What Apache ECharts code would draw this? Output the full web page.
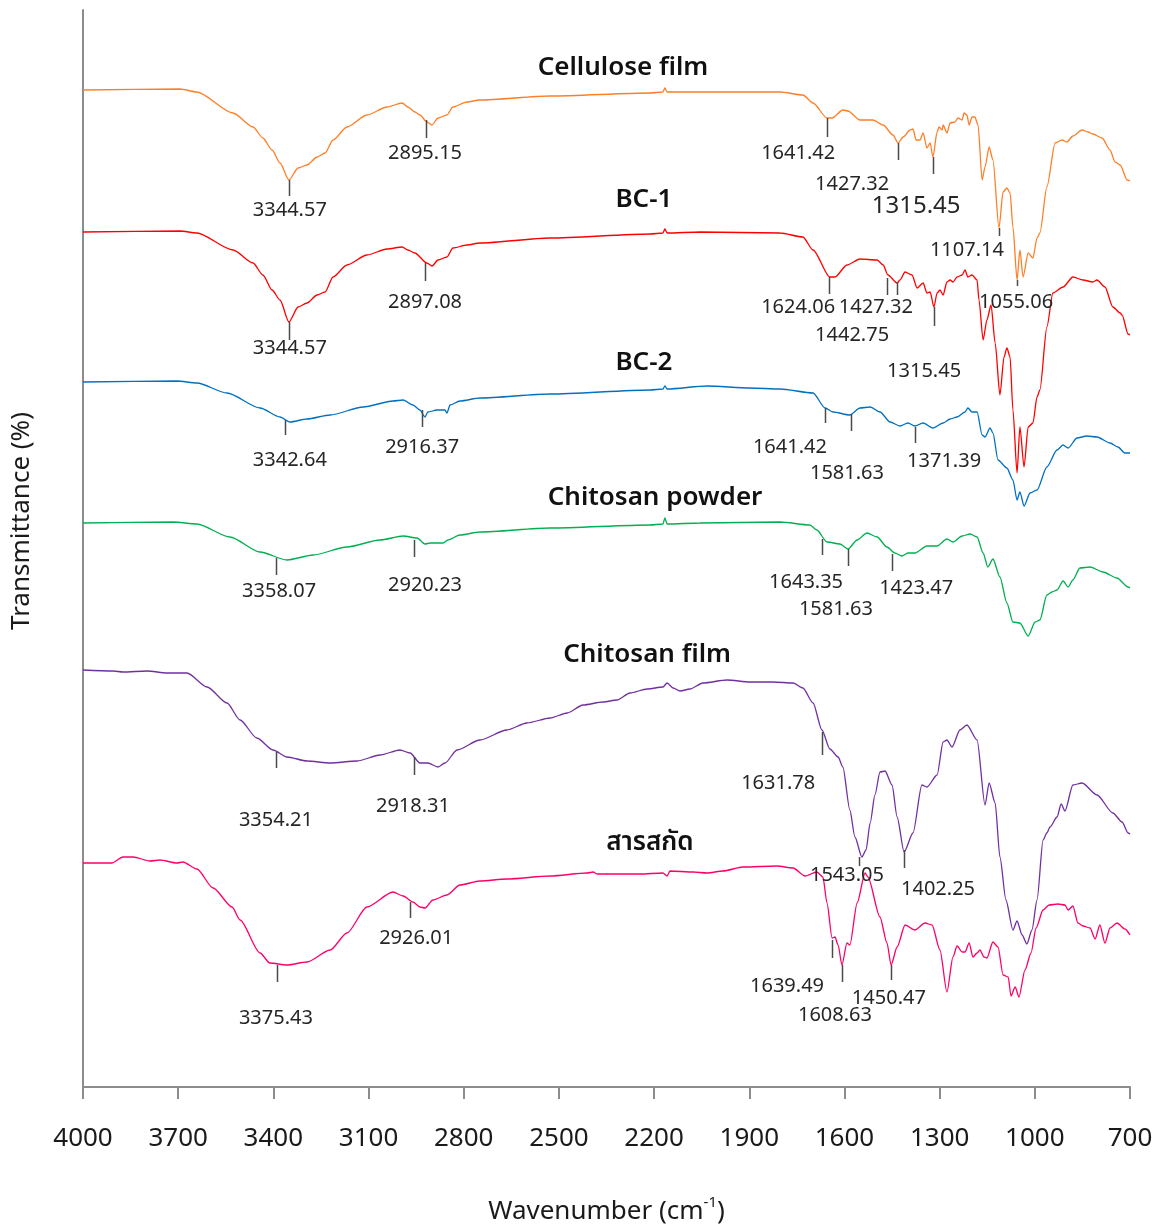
<!DOCTYPE html>
<html>
<head>
<meta charset="utf-8">
<script src="https://cdn.jsdelivr.net/npm/echarts@6/dist/echarts.min.js"></script>
<style>html,body{margin:0;padding:0;background:#fff}#c{width:1165px;height:1225px}</style>
</head>
<body>
<div id="c"></div>
<script>
// ---- x axis tick labels (wavenumber, cm-1) ----
const xTicks = [4000, 3700, 3400, 3100, 2800, 2500, 2200, 1900, 1600, 1300, 1000, 700];

// ---- series names ----
const seriesNames = ['Cellulose film', 'BC-1', 'BC-2', 'Chitosan powder', 'Chitosan film', 'สารสกัด'];

// ---- spectra: [wavenumber, transmittance (offset, a.u. %)] ----
const celluloseFilm = [
[4000,99.7],[3694,99.8],[3641,99.5],[3527,97.4],[3464,96.0],[3433,94.9],[3404,93.7],[3379,92.4],[3351,90.7],
[3322,91.9],[3294,92.2],[3262,93.0],[3237,93.4],[3212,94.7],[3168,96.0],[3105,97.2],[3042,98.0],[2994,98.4],
[2976,98.0],[2954,97.5],[2938,97.2],[2916,96.5],[2900,96.2],[2881,96.9],[2853,97.2],[2834,98.0],[2790,98.5],
[2749,98.7],[2528,99.1],[2213,99.4],[2172,99.5],[2166,99.9],[2159,99.5],[2055,99.5],[1803,99.5],[1731,99.2],
[1699,98.4],[1655,96.9],[1639,96.9],[1605,97.7],[1589,97.6],[1551,96.7],[1510,96.7],[1478,96.2],[1447,95.2],
[1431,94.4],[1415,95.0],[1393,95.7],[1384,95.8],[1374,94.7],[1362,94.7],[1352,95.4],[1340,93.9],[1330,94.4],
[1321,93.0],[1308,95.5],[1302,96.0],[1292,95.7],[1289,96.2],[1277,95.4],[1267,96.4],[1252,96.5],[1242,96.9],
[1229,96.7],[1223,97.4],[1214,97.2],[1207,96.2],[1198,97.0],[1189,97.0],[1179,96.2],[1166,90.7],[1157,92.0],
[1144,94.0],[1132,92.7],[1113,85.9],[1100,89.5],[1088,89.9],[1078,89.4],[1069,86.0],[1056,80.7],[1047,83.7],
[1037,81.0],[1021,83.4],[1006,82.9],[993,84.9],[984,85.4],[962,90.0],[936,94.4],[914,94.7],[899,94.5],
[880,95.1],[851,95.7],[832,95.5],[817,95.3],[788,94.9],[763,93.7],[747,92.5],[731,92.2],[709,90.7],[700,90.6]
];
const bc1 = [
[4000,85.5],[3694,85.6],[3641,85.4],[3527,83.7],[3464,82.4],[3433,81.2],[3404,79.7],[3379,78.7],[3351,76.5],
[3322,78.0],[3294,78.4],[3262,79.2],[3237,79.5],[3212,81.0],[3168,82.2],[3105,83.2],[3042,83.8],[2994,84.0],
[2976,83.7],[2954,83.4],[2916,82.4],[2900,82.1],[2881,82.7],[2853,83.0],[2834,83.9],[2790,84.2],[2749,84.4],
[2528,84.9],[2213,85.3],[2172,85.4],[2166,85.8],[2159,85.4],[2055,85.5],[1803,85.4],[1731,85.0],[1699,83.7],
[1646,81.0],[1630,81.0],[1592,82.2],[1551,82.8],[1497,82.7],[1478,82.2],[1463,81.2],[1434,80.4],[1425,80.7],
[1409,81.5],[1387,81.2],[1371,79.9],[1352,80.4],[1340,79.4],[1330,79.5],[1318,78.0],[1308,79.4],[1299,79.7],
[1289,79.2],[1277,80.5],[1267,80.7],[1258,80.5],[1245,81.0],[1229,81.2],[1220,81.7],[1211,81.0],[1198,81.2],
[1182,80.7],[1176,78.7],[1163,74.7],[1151,76.7],[1138,78.2],[1125,74.4],[1110,69.2],[1097,73.0],[1088,73.9],
[1078,73.0],[1069,67.7],[1056,61.4],[1047,66.0],[1034,62.0],[1021,66.0],[1006,66.4],[993,69.0],[984,69.7],
[962,76.0],[943,79.4],[911,80.0],[880,81.0],[848,80.7],[817,80.5],[804,80.7],[779,80.0],[754,78.0],[731,77.4],
[725,77.2],[706,75.3],[700,75.2]
];
const bc2 = [
[4000,70.5],[3704,70.6],[3641,70.4],[3546,69.4],[3442,67.9],[3379,67.0],[3348,66.5],[3294,66.8],[3221,67.2],
[3117,68.0],[3023,68.6],[2991,68.7],[2960,68.2],[2938,67.7],[2922,67.0],[2913,67.5],[2884,67.7],[2859,67.7],
[2853,67.4],[2843,68.2],[2812,68.6],[2749,68.9],[2528,69.3],[2213,69.7],[2172,69.8],[2166,70.1],[2159,69.8],
[2033,70.1],[1898,69.9],[1803,69.8],[1699,69.4],[1661,67.9],[1636,67.5],[1583,67.2],[1551,67.9],[1519,68.0],
[1488,67.5],[1456,66.5],[1425,66.1],[1400,66.4],[1378,66.1],[1352,66.4],[1321,65.9],[1289,66.4],[1267,66.8],
[1245,67.0],[1220,67.5],[1211,67.9],[1198,67.5],[1182,67.5],[1166,65.2],[1157,65.0],[1141,65.9],[1132,65.4],
[1116,62.7],[1088,61.9],[1069,60.7],[1056,58.7],[1047,59.5],[1034,58.1],[1015,59.4],[993,59.7],[962,62.0],
[930,63.7],[911,64.2],[895,63.9],[867,64.9],[836,65.1],[804,65.0],[763,64.4],[738,64.0],[716,63.4],[700,63.4]
];
const chitosanPowder = [
[4000,56.4],[3716,56.5],[3641,56.3],[3537,55.0],[3442,53.5],[3357,52.7],[3275,53.2],[3168,54.0],[3064,54.7],
[2991,55.1],[2947,54.9],[2922,54.3],[2906,54.4],[2865,54.4],[2850,54.7],[2812,55.2],[2749,55.5],[2528,55.9],
[2213,56.2],[2172,56.3],[2166,56.9],[2159,56.3],[2055,56.4],[1803,56.5],[1709,56.2],[1687,55.7],[1655,54.5],
[1614,54.3],[1589,53.8],[1560,54.7],[1529,55.4],[1497,55.0],[1466,54.0],[1441,53.4],[1419,53.1],[1400,53.4],
[1378,53.4],[1340,54.1],[1308,54.1],[1277,54.8],[1258,54.5],[1229,55.1],[1204,55.3],[1182,55.0],[1163,53.4],
[1148,52.0],[1132,52.8],[1110,51.0],[1088,48.4],[1069,46.5],[1047,46.4],[1021,45.1],[999,46.5],[984,46.7],
[962,49.2],[946,49.5],[930,49.7],[911,50.6],[895,50.0],[880,50.7],[858,51.9],[826,52.0],[785,51.5],[741,50.9],
[706,50.0],[700,49.9]
];
const chitosanFilm = [
[4000,41.7],[3905,41.6],[3874,41.5],[3798,41.6],[3735,41.4],[3672,41.4],[3609,40.0],[3546,38.4],[3505,36.7],
[3452,34.9],[3401,33.7],[3357,33.0],[3294,32.6],[3221,32.4],[3136,32.6],[3064,33.2],[3001,33.7],[2969,33.4],
[2938,32.4],[2913,32.4],[2881,32.0],[2859,32.4],[2821,33.7],[2749,34.7],[2664,35.7],[2601,36.4],[2528,36.9],
[2474,37.4],[2424,38.2],[2361,38.5],[2317,38.7],[2276,39.4],[2222,39.8],[2172,40.0],[2159,40.4],[2140,39.9],
[2118,39.6],[2087,39.8],[2046,40.4],[1970,40.7],[1898,40.5],[1825,40.5],[1762,40.4],[1731,39.9],[1699,38.4],
[1671,35.7],[1646,33.8],[1620,33.0],[1605,32.0],[1583,27.7],[1567,25.0],[1545,23.0],[1532,23.7],[1519,26.4],
[1504,29.2],[1488,31.5],[1472,31.6],[1450,30.2],[1434,27.0],[1412,23.5],[1384,25.4],[1356,30.2],[1340,30.0],
[1308,31.2],[1289,34.5],[1277,34.7],[1261,34.0],[1236,35.7],[1214,36.2],[1182,34.7],[1157,28.2],[1144,30.4],
[1125,28.4],[1110,23.0],[1091,18.7],[1069,15.7],[1056,16.6],[1040,15.2],[1025,14.3],[1009,15.7],[993,18.7],
[974,24.7],[962,25.4],[952,26.0],[930,27.0],[917,28.3],[905,27.6],[880,30.2],[851,30.4],[804,29.2],[754,27.4],
[725,26.5],[706,25.4],[700,25.3]
];
const extract = [
[4000,22.4],[3909,22.4],[3874,23.0],[3842,23.0],[3789,22.6],[3757,22.7],[3704,22.4],[3685,22.5],[3641,21.8],
[3590,19.9],[3530,18.0],[3505,16.7],[3442,13.4],[3411,12.4],[3357,12.2],[3294,12.5],[3221,13.7],[3168,15.4],
[3105,18.0],[3023,19.5],[2991,19.1],[2960,18.5],[2938,18.0],[2922,17.9],[2897,18.7],[2853,19.2],[2812,20.2],
[2749,20.6],[2664,20.8],[2528,21.1],[2411,21.4],[2392,21.5],[2380,21.3],[2244,21.3],[2172,21.4],[2159,21.1],
[2150,21.6],[2077,21.5],[2033,21.4],[1983,21.6],[1920,22.0],[1813,22.1],[1762,21.9],[1724,21.1],[1687,21.5],
[1668,21.0],[1655,18.4],[1639,14.9],[1630,15.0],[1620,14.2],[1608,12.2],[1592,14.4],[1583,14.2],[1560,18.4],
[1535,21.4],[1526,21.0],[1488,17.0],[1466,14.4],[1453,12.2],[1434,14.0],[1409,16.2],[1378,15.7],[1346,16.4],
[1324,16.2],[1299,13.7],[1277,9.5],[1258,13.0],[1245,14.1],[1229,13.5],[1220,13.5],[1207,14.4],[1195,13.0],
[1182,13.4],[1173,13.7],[1160,13.0],[1151,12.9],[1132,14.5],[1116,14.0],[1100,11.2],[1084,11.0],[1075,9.1],
[1062,10.0],[1050,9.0],[1031,11.7],[1012,13.4],[996,15.9],[974,17.7],[955,18.2],[927,18.3],[905,18.2],
[895,17.7],[880,18.1],[864,16.4],[848,16.1],[826,15.9],[810,14.8],[795,16.2],[779,14.4],[763,15.9],[741,16.4],
[716,15.8],[700,15.2]
];
const spectra = [celluloseFilm, bc1, bc2, chitosanPowder, chitosanFilm, extract];

// ---- peak annotations: [tick wn, tick top T, tick bottom T, label wn, label T, text] ----
const peaksCellulose = [
[3351,90.7,89.1,3348,87.7,'3344.57'],[2919,96.7,94.9,2922,93.4,'2895.15'],[1655,96.9,95.0,1746,93.4,'1641.42'],
[1431,94.4,92.7,1576,90.3,'1427.32'],[1321,93.0,91.3,1374,88.1,'1315.45'],[1113,85.9,85.1,1214,83.7,'1107.14'],
[1056,80.7,80.1,1059,78.5,'1055.06']
];
const peaksBC1 = [
[3351,76.5,74.7,3348,73.9,'3344.57'],[2922,82.4,80.6,2922,78.5,'2897.08'],[1649,81.0,79.3,1746,78.0,'1624.06'],
[1434,80.5,79.2,1501,78.0,'1427.32'],[1466,80.9,79.2,1576,75.2,'1442.75'],[1318,78.0,76.1,1349,71.6,'1315.45']
];
const peaksBC2 = [
[3363,66.7,65.2,3348,62.7,'3342.64'],[2931,67.7,66.0,2931,64.0,'2916.37'],[1661,67.9,66.4,1772,64.0,'1641.42'],
[1579,67.3,65.6,1592,61.4,'1581.63'],[1378,66.0,64.4,1286,62.6,'1371.39']
];
const peaksChitosanPowder = [
[3392,52.9,51.2,3382,49.6,'3358.07'],[2957,54.7,53.0,2922,50.2,'2920.23'],[1671,54.8,53.2,1721,50.5,'1643.35'],
[1589,53.8,52.1,1627,47.8,'1581.63'],[1450,53.3,51.6,1374,49.9,'1423.47']
];
const peaksChitosanFilm = [
[3392,33.5,31.9,3392,26.7,'3354.21'],[2957,33.0,31.2,2960,28.1,'2918.31'],[1671,35.5,33.2,1809,30.4,'1631.78'],
[1554,23.0,22.1,1592,21.2,'1543.05'],[1412,23.7,21.9,1305,19.8,'1402.25']
];
const peaksExtract = [
[3389,12.2,10.5,3392,6.9,'3375.43'],[2969,18.5,16.9,2950,14.9,'2926.01'],[1639,14.7,12.9,1781,10.1,'1639.49'],
[1608,12.2,10.5,1630,7.2,'1608.63'],[1453,12.2,10.7,1460,8.9,'1450.47']
];
const peakSets = [peaksCellulose, peaksBC1, peaksBC2, peaksChitosanPowder, peaksChitosanFilm, peaksExtract];

// ---- series title placement: [wn, T] ----
const seriesTitlePos = [[2298,101.9],[2232,88.7],[2232,72.4],[2197,58.9],[2222,43.2],[2213,24.4]];

// ---- styles ----
const colors = ['#ff7f27', '#ff0000', '#0070c0', '#00b050', '#7030a0', '#ff0066'];
const FONT = "'Noto Sans', 'Noto Sans Thai', 'Noto Sans Thai UI', Loma, Garuda, 'DejaVu Sans', sans-serif";
const bigLabel = {set: 0, text: '1315.45'};

const allPeaks = [];
peakSets.forEach((set, si) => set.forEach(p => allPeaks.push({si, p})));

const series = spectra.map((d, i) => ({
  name: seriesNames[i], type: 'line', data: d, showSymbol: false, symbol: 'none',
  smooth: 0.25, smoothMonotone: 'x',
  lineStyle: {color: colors[i], width: 1.3}, itemStyle: {color: colors[i]},
  silent: true, z: 2
}));

series.push({
  type: 'custom', name: 'peaks', silent: true, z: 5, clip: false,
  data: allPeaks.map(a => [a.p[0], a.p[1], a.p[2], a.p[3], a.p[4]]),
  encode: {x: [0, 3], y: [1, 2, 4]},
  renderItem: function (params, api) {
    const a = allPeaks[params.dataIndex];
    const p1 = api.coord([api.value(0), api.value(1)]);
    const p2 = api.coord([api.value(0), api.value(2)]);
    const pl = api.coord([api.value(3), api.value(4)]);
    const big = a.si === bigLabel.set && a.p[5] === bigLabel.text;
    return {type: 'group', children: [
      {type: 'line', shape: {x1: Math.round(p1[0]) + 0.5, y1: p1[1], x2: Math.round(p2[0]) + 0.5, y2: p2[1]},
       style: {stroke: '#4a4a4a', lineWidth: 1.5}},
      {type: 'text', x: pl[0], y: pl[1],
       style: {text: a.p[5], fill: '#262626', fontSize: big ? 24 : 20, fontFamily: FONT, align: 'center', verticalAlign: 'middle'}}
    ]};
  }
});

series.push({
  type: 'custom', name: 'titles', silent: true, z: 6, clip: false,
  data: seriesTitlePos,
  encode: {x: 0, y: 1},
  renderItem: function (params, api) {
    const p = api.coord([api.value(0), api.value(1)]);
    return {type: 'text', x: p[0], y: p[1],
      style: {text: seriesNames[params.dataIndex], fill: '#111', fontSize: 26, fontWeight: 600,
              fontFamily: FONT, align: 'center', verticalAlign: 'middle'}};
  }
});

const chart = echarts.init(document.getElementById('c'), null, {renderer: 'canvas'});
chart.setOption({
  animation: false,
  backgroundColor: '#ffffff',
  grid: {left: 83, right: 35, top: 10, bottom: 138, containLabel: false, outerBoundsMode: 'none'},
  xAxis: {
    type: 'value', min: 700, max: 4000, inverse: true,
    axisLine: {show: true, lineStyle: {color: '#8c8c8c', width: 2}},
    axisTick: {show: true, length: 12, customValues: xTicks, lineStyle: {color: '#8c8c8c', width: 2}},
    axisLabel: {customValues: xTicks, fontSize: 26, color: '#1a1a1a', margin: 39, fontFamily: FONT,
                formatter: v => String(v)},
    splitLine: {show: false},
    name: '{a|Wavenumber (cm}{s|-1}{a|)}',
    nameLocation: 'middle', nameGap: 108,
    nameTextStyle: {rich: {
      a: {fontSize: 26, color: '#1a1a1a', fontFamily: FONT, verticalAlign: 'bottom', lineHeight: 30},
      s: {fontSize: 15, color: '#1a1a1a', fontFamily: FONT, verticalAlign: 'top', lineHeight: 30, padding: [0, 0, 14, 0]}
    }}
  },
  yAxis: {
    type: 'value', min: 0, max: 107.7,
    axisLine: {show: true, lineStyle: {color: '#8c8c8c', width: 2}},
    axisTick: {show: false}, axisLabel: {show: false}, splitLine: {show: false},
    name: 'Transmittance (%)', nameLocation: 'middle', nameGap: 48, nameRotate: 90,
    nameTextStyle: {fontSize: 26, color: '#1a1a1a', fontFamily: FONT, padding: [0, 0, 0, 55]}
  },
  series: series
});
</script>
</body>
</html>
